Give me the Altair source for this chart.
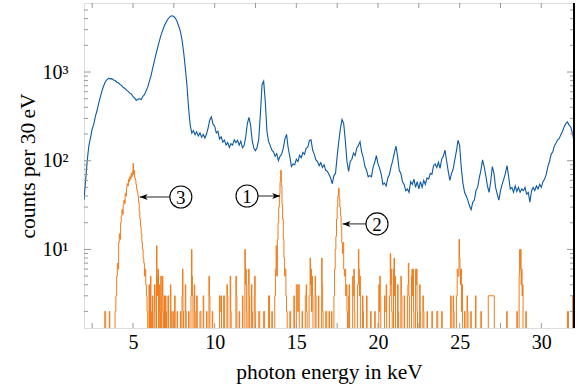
import altair as alt
import pandas as pd

# ---------------- data ----------------
# blue spectrum: counts per 30 eV, sampled every 0.1 keV starting at 2.0 keV
blue_start = 2.0
blue_step = 0.1
blue_counts = [
    36, 60, 102, 148, 182, 228, 258, 318, 368, 445,          # 2.0
    520, 612, 695, 772, 818, 850, 838, 842, 812, 805,        # 3.0
    768, 755, 725, 705, 668, 655, 625, 605, 578, 565,        # 4.0
    528, 510, 478, 495, 500, 490, 530, 555, 610, 675,        # 5.0
    785, 905, 1090, 1310, 1570, 1860, 2190, 2560, 2890, 3260,  # 6.0
    3540, 3860, 4090, 4260, 4310, 4220, 4030, 3700, 3280, 2880,  # 7.0
    2300, 1680, 1120, 720, 400, 252, 205, 218, 196, 212,     # 8.0
    190, 206, 184, 198, 180, 200, 235, 288, 312, 258,        # 9.0
    245, 206, 214, 176, 186, 162, 171, 150, 160, 141,        # 10.0
    156, 150, 172, 160, 170, 150, 166, 140, 148, 185,        # 11.0
    262, 308, 250, 168, 138, 130, 142, 175, 340, 720,        # 12.0
    790, 460, 215, 165, 148, 132, 126, 112, 120, 100,        # 13.0
    112, 118, 138, 175, 198, 140, 112, 86, 92, 90,           # 14.0
    104, 98, 115, 108, 124, 118, 138, 142, 168, 172,         # 15.0
    132, 118, 102, 98, 88, 95, 84, 90, 78, 76,               # 16.0
    70, 64, 55, 68, 72, 112, 165, 232, 292, 262,             # 17.0
    168, 98, 76, 98, 104, 122, 114, 138, 148, 164,           # 18.0
    126, 108, 86, 78, 66, 68, 66, 84, 96, 114,               # 19.0
    92, 82, 70, 54, 56, 52, 64, 70, 86, 100,                 # 20.0
    122, 146, 112, 78, 72, 58, 54, 46, 48, 44,               # 21.0
    58, 54, 62, 50, 58, 48, 58, 50, 60, 54,                  # 22.0
    64, 62, 72, 70, 88, 92, 84, 96, 82, 104,                 # 23.0
    112, 132, 100, 76, 60, 72, 80, 102, 128, 170,            # 24.0
    148, 82, 56, 44, 40, 36, 31, 28, 34, 36,                 # 25.0
    46, 50, 64, 78, 102, 86, 68, 52, 44, 58,                 # 26.0
    86, 72, 50, 42, 36, 46, 54, 62, 72, 88,                  # 27.0
    66, 48, 50, 44, 52, 45, 50, 44, 48, 46,                  # 28.0
    50, 42, 44, 34, 46, 50, 46, 52, 48, 54,                  # 29.0
    50, 58, 62, 70, 86, 98, 118, 126, 148, 158,              # 30.0
    172, 178, 198, 215, 242, 262, 274, 252, 240, 205,        # 31.0
    168,                                                     # 32.0
]

# orange spectrum: step histogram, (bin start energy in keV, counts); 1 = empty bin
orange_steps = [
    (2.00, 1), (3.27, 2), (3.33, 1), (3.55, 2), (3.58, 1), (3.90, 2), (3.95, 3),
    (4.00, 5), (4.04, 7), (4.08, 6), (4.12, 12), (4.16, 15), (4.20, 13), (4.24, 20),
    (4.28, 24), (4.32, 28), (4.36, 25), (4.40, 32), (4.44, 36), (4.48, 33), (4.52, 43),
    (4.56, 40), (4.60, 50), (4.64, 55), (4.68, 52), (4.72, 62), (4.76, 58), (4.80, 66),
    (4.84, 62), (4.88, 72), (4.92, 66), (4.96, 75), (5.00, 93), (5.03, 70), (5.06, 78),
    (5.10, 64), (5.14, 60), (5.18, 54), (5.22, 48), (5.26, 44), (5.30, 40), (5.34, 34),
    (5.38, 27), (5.42, 22), (5.46, 18), (5.50, 15), (5.54, 12), (5.58, 10), (5.62, 8),
    (5.66, 7), (5.70, 5), (5.74, 6), (5.78, 4), (5.82, 3), (5.86, 2), (5.90, 1),
    (5.98, 4), (6.01, 1), (6.07, 5), (6.10, 2), (6.13, 1), (6.19, 3), (6.22, 1),
    (6.29, 2), (6.32, 4), (6.35, 1), (6.44, 11), (6.47, 5), (6.50, 3), (6.53, 6),
    (6.56, 1), (6.61, 4), (6.64, 2), (6.67, 1), (6.70, 5), (6.73, 1), (6.77, 3),
    (6.80, 5), (6.83, 2), (6.86, 1), (6.90, 3), (6.93, 1), (6.99, 3), (7.02, 2),
    (7.05, 1), (7.14, 3), (7.17, 1), (7.29, 4), (7.32, 2), (7.35, 1), (7.44, 2),
    (7.47, 1), (7.55, 3), (7.58, 1), (7.70, 2), (7.73, 1), (7.90, 2), (7.93, 1),
    (8.00, 3), (8.03, 6), (8.06, 2), (8.09, 1), (8.20, 4), (8.23, 2), (8.26, 1),
    (8.40, 2), (8.43, 1), (8.55, 3), (8.58, 10), (8.61, 5), (8.64, 3), (8.67, 1),
    (8.75, 4), (8.78, 2), (8.81, 1), (8.90, 3), (8.93, 1), (9.10, 2), (9.16, 1),
    (9.30, 3), (9.33, 1), (9.50, 2), (9.53, 1), (9.65, 5), (9.68, 3), (9.71, 1),
    (9.85, 2), (9.88, 1), (10.30, 3), (10.33, 2), (10.39, 3), (10.42, 1), (10.55, 3),
    (10.61, 1), (10.75, 4), (10.78, 3), (10.81, 1), (10.95, 5), (10.98, 2), (11.01, 1),
    (11.30, 5), (11.33, 3), (11.36, 1), (11.50, 2), (11.53, 1), (11.70, 3), (11.73, 1),
    (11.85, 10), (11.88, 4), (11.91, 6), (11.94, 2), (11.97, 1), (12.05, 4), (12.08, 6),
    (12.11, 3), (12.14, 1), (12.25, 4), (12.28, 2), (12.31, 1), (12.42, 3), (12.45, 5),
    (12.48, 2), (12.51, 1), (12.70, 2), (12.76, 1), (13.00, 2), (13.06, 1), (13.30, 3),
    (13.36, 1), (13.50, 2), (13.53, 1),
    (13.68, 3), (13.72, 6), (13.76, 11), (13.80, 5), (13.84, 13), (13.88, 20), (13.92, 30),
    (13.96, 42), (14.00, 58), (14.04, 78), (14.08, 52), (14.12, 32), (14.16, 22),
    (14.20, 13), (14.24, 8), (14.28, 5), (14.32, 6), (14.36, 3), (14.40, 2), (14.44, 1),
    (14.60, 2), (14.65, 1), (14.85, 3), (14.88, 1), (15.00, 4), (15.06, 2), (15.12, 4),
    (15.18, 1), (15.35, 2), (15.38, 1), (15.55, 3), (15.60, 4), (15.63, 2), (15.66, 1),
    (15.78, 3), (15.84, 8), (15.87, 4), (15.90, 6), (15.93, 2), (15.96, 5), (15.99, 3),
    (16.02, 1), (16.15, 5), (16.18, 3), (16.21, 1), (16.35, 3), (16.38, 1), (16.55, 8),
    (16.58, 4), (16.61, 2), (16.64, 1), (16.80, 2), (16.86, 1), (17.00, 2), (17.03, 1),
    (17.15, 2), (17.18, 1),
    (17.30, 3), (17.34, 6), (17.38, 10), (17.42, 14), (17.46, 22), (17.50, 30), (17.54, 40),
    (17.58, 49), (17.62, 38), (17.66, 30), (17.70, 24), (17.74, 18), (17.78, 12),
    (17.82, 9), (17.86, 12), (17.90, 6), (17.94, 5), (17.98, 6), (18.02, 3), (18.06, 4),
    (18.10, 2), (18.13, 1),
    (18.20, 3), (18.23, 4), (18.26, 1), (18.45, 5), (18.48, 3), (18.52, 6), (18.55, 2),
    (18.58, 1), (18.75, 4), (18.80, 10), (18.83, 6), (18.86, 3), (18.89, 5), (18.92, 1),
    (19.05, 3), (19.08, 2), (19.11, 1), (19.30, 3), (19.33, 1), (19.55, 2), (19.58, 1),
    (19.80, 2), (19.83, 1), (20.05, 4), (20.08, 2), (20.11, 5), (20.14, 3), (20.17, 1),
    (20.40, 3), (20.43, 2), (20.50, 4), (20.53, 1), (20.70, 3), (20.75, 9), (20.78, 4),
    (20.81, 6), (20.84, 2), (20.87, 1), (20.95, 6), (20.98, 8), (21.01, 3), (21.04, 5),
    (21.07, 1), (21.20, 4), (21.23, 2), (21.26, 1), (21.40, 5), (21.43, 3), (21.46, 1),
    (21.60, 3), (21.63, 1), (21.80, 3), (21.83, 4), (21.86, 7), (21.89, 3), (21.92, 1),
    (22.05, 5), (22.08, 6), (22.11, 3), (22.14, 6), (22.17, 2), (22.20, 1), (22.30, 6),
    (22.33, 4), (22.36, 6), (22.39, 2), (22.42, 1), (22.55, 4), (22.58, 2), (22.61, 1),
    (22.75, 3), (22.78, 2), (22.81, 1), (23.00, 2), (23.03, 1), (23.30, 2), (23.33, 1),
    (23.60, 2), (23.66, 1), (23.90, 2), (23.93, 1), (24.45, 3), (24.48, 1), (24.60, 3),
    (24.63, 2), (24.66, 1), (24.80, 3), (24.85, 6), (24.90, 5), (24.96, 13), (24.99, 8),
    (25.02, 6), (25.05, 4), (25.08, 6), (25.11, 2), (25.14, 4), (25.17, 1), (25.30, 2),
    (25.33, 1), (25.45, 3), (25.48, 2), (25.51, 1), (25.68, 2), (25.71, 1), (25.97, 3),
    (26.00, 1), (26.30, 2), (26.33, 1), (26.75, 3), (27.12, 1), (27.88, 2), (27.91, 1),
    (28.50, 2), (28.53, 1), (28.64, 5), (28.67, 10), (28.70, 6), (28.73, 10), (28.76, 4),
    (28.79, 6), (28.82, 3), (28.85, 4), (28.88, 1), (29.05, 2), (29.08, 1), (31.60, 2),
    (31.66, 1), (31.92, 3), (32.00, 3),
]

# annotations: circled labels and arrows
annot_labels = ["3", "1", "2"]
annot_x = [7.93, 11.98, 19.94]
annot_y = [39, 40, 19.4]
arrow_from = [7.27, 12.65, 19.27]
arrow_to = [5.41, 14.01, 17.83]
arrow_dir = ["left", "right", "left"]

x_tick_labels = [5, 10, 15, 20, 25, 30]
x_tick_marks = [2.5, 5, 7.5, 10, 12.5, 15, 17.5, 20, 22.5, 25, 27.5, 30]
y_major = [10, 100, 1000]
y_minor = [2, 3, 4, 5, 6, 7, 8, 9, 20, 30, 40, 50, 60, 70, 80, 90,
           200, 300, 400, 500, 600, 700, 800, 900, 2000, 3000, 4000, 5000]

# ---------------- chart ----------------
W, H = 490, 325
FONT = "Liberation Serif"
BLUE = "#0a59a3"
ORANGE = "#f07d1e"
FRAME = "#999999"

blue_df = pd.DataFrame({
    "energy": [round(blue_start + blue_step * i, 3) for i in range(len(blue_counts))],
    "counts": blue_counts,
})
orange_df = pd.DataFrame({
    "energy": [e for e, c in orange_steps],
    "counts": [c for e, c in orange_steps],
})
annot_df = pd.DataFrame({"x": annot_x, "y": annot_y, "label": annot_labels})
arrow_df = pd.DataFrame({"x1": arrow_from, "x2": arrow_to, "y": annot_y, "dir": arrow_dir})

xs = alt.Scale(domain=[2, 32], nice=False, zero=False)
ys = alt.Scale(type="log", domain=[1.3, 6000], nice=False)

x_axis = alt.Axis(values=x_tick_labels, title="photon energy in keV", ticks=False,
                  domain=False, grid=False, labelPadding=4, titlePadding=9,
                  labelFontSize=20, titleFontSize=21.5, labelFont=FONT, titleFont=FONT,
                  titleFontWeight="normal", labelColor="black", titleColor="black")
y_axis = alt.Axis(values=y_major, title="counts per 30\u2009eV", ticks=False, domain=False,
                  grid=False, labelPadding=16, titlePadding=3, labelFontSize=20,
                  titleFontSize=21.5, labelFont=FONT, titleFont=FONT,
                  titleFontWeight="normal", labelColor="black", titleColor="black",
                  labelExpr="datum.value == 10 ? '10\u00b9' : datum.value == 100 ? '10\u00b2' : '10\u00b3'")

blue = alt.Chart(blue_df).mark_line(color=BLUE, strokeWidth=1.1, clip=True).encode(
    x=alt.X("energy:Q", scale=xs, axis=x_axis),
    y=alt.Y("counts:Q", scale=ys, axis=y_axis),
)
orange = alt.Chart(orange_df).mark_line(color=ORANGE, strokeWidth=1, clip=True,
                                        interpolate="step-after").encode(
    x=alt.X("energy:Q", scale=xs),
    y=alt.Y("counts:Q", scale=ys),
)

xt_df = pd.DataFrame({"t": x_tick_marks})
ymaj_df = pd.DataFrame({"t": y_major})
ymin_df = pd.DataFrame({"t": y_minor})

def xticks(y1, y2):
    return alt.Chart(xt_df).mark_rule(color=FRAME, strokeWidth=1).encode(
        x=alt.X("t:Q", scale=xs), y=alt.value(y1), y2=alt.value(y2))

def yticks(df, x1, x2):
    return alt.Chart(df).mark_rule(color=FRAME, strokeWidth=1).encode(
        y=alt.Y("t:Q", scale=ys), x=alt.value(x1), x2=alt.value(x2))

ticks = [
    xticks(H, H - 5), xticks(0, 5),
    yticks(ymaj_df, 0, 7), yticks(ymin_df, 0, 4),
    yticks(ymaj_df, W, W - 7), yticks(ymin_df, W, W - 4),
]

right_border = alt.Chart(xt_df).mark_rule(color="black", strokeWidth=1.3).encode(
    x=alt.value(W), y=alt.value(0), y2=alt.value(H))

arrow_lines = alt.Chart(arrow_df).mark_rule(color="#555555", strokeWidth=1.3).encode(
    x=alt.X("x1:Q", scale=xs), x2="x2:Q",
    y=alt.Y("y:Q", scale=ys))
head_left = alt.Chart(arrow_df).transform_filter("datum.dir == 'left'").mark_point(
    shape="M0,0L2,-0.75L1.45,0L2,0.75Z", size=64, filled=True, color="black",
    opacity=1, strokeWidth=0.5).encode(
    x=alt.X("x2:Q", scale=xs), y=alt.Y("y:Q", scale=ys))
head_right = alt.Chart(arrow_df).transform_filter("datum.dir == 'right'").mark_point(
    shape="M0,0L-2,-0.75L-1.45,0L-2,0.75Z", size=64, filled=True, color="black",
    opacity=1, strokeWidth=0.5).encode(
    x=alt.X("x2:Q", scale=xs), y=alt.Y("y:Q", scale=ys))

circles = alt.Chart(annot_df).mark_point(shape="circle", size=484, filled=False,
                                         stroke="black", strokeWidth=1.1, opacity=1,
                                         fill="white", fillOpacity=1).encode(
    x=alt.X("x:Q", scale=xs), y=alt.Y("y:Q", scale=ys))
numbers = alt.Chart(annot_df).mark_text(font=FONT, fontSize=19, baseline="middle",
                                        align="center", dy=1, color="black").encode(
    x=alt.X("x:Q", scale=xs), y=alt.Y("y:Q", scale=ys),
    text="label:N")

chart = alt.layer(
    blue, orange, *ticks, arrow_lines, head_left, head_right, circles, numbers, right_border
).properties(
    width=W, height=H,
    autosize=alt.AutoSizeParams(type="none"),
    padding={"left": 84, "top": 3, "right": 5, "bottom": 63},
).configure_view(
    stroke=FRAME, strokeWidth=1
).configure(background="white")

chart.save("out.html", embed_options={"renderer": "svg", "actions": False})
